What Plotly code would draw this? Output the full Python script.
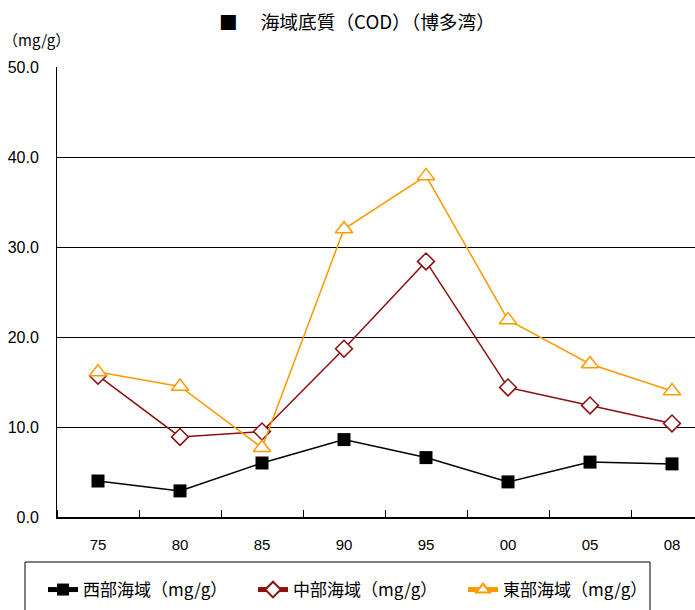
import plotly.graph_objects as go

years = ["75", "80", "85", "90", "95", "00", "05", "08"]
west = [4.0, 2.9, 6.0, 8.6, 6.6, 3.9, 6.1, 5.9]
central = [15.7, 8.9, 9.5, 18.7, 28.4, 14.4, 12.4, 10.4]
east = [16.1, 14.5, 7.7, 32.0, 37.9, 21.9, 17.0, 14.0]
names = ["西部海域（mg/g）", "中部海域（mg/g）", "東部海域（mg/g）"]
y_ticks = [0, 10, 20, 30, 40, 50]

xs = list(range(len(years)))
FONT = "Liberation Sans, Noto Sans CJK JP, sans-serif"
JFONT = "Noto Sans CJK JP, sans-serif"

W, H = 695, 610
L, T, B = 57, 67, 93
PW, PH = W - L, H - T - B


def px_x(p):
    return (p - L) / PW


def px_y(p):
    return (H - B - p) / PH


fig = go.Figure()
fig.add_trace(go.Scatter(x=xs, y=west, name=names[0], mode="lines+markers",
                         line=dict(color="black", width=1.5),
                         marker=dict(symbol="square", size=13, color="black")))
fig.add_trace(go.Scatter(x=xs, y=central, name=names[1], mode="lines+markers",
                         line=dict(color="#8B1010", width=1.5),
                         marker=dict(symbol="diamond", size=13, color="white",
                                     line=dict(color="#8B1010", width=1.5))))
fig.add_trace(go.Scatter(x=xs, y=east, name=names[2], mode="lines+markers",
                         line=dict(color="#FF9900", width=1.5),
                         marker=dict(symbol="triangle-up", size=15, color="white",
                                     line=dict(color="#FF9900", width=1.5))))

fig.update_layout(
    width=W, height=H,
    margin=dict(l=L, r=0, t=T, b=B),
    paper_bgcolor="white", plot_bgcolor="white",
    font=dict(family=FONT, color="black", size=14),
    title=dict(text="■　 海域底質（COD）（博多湾）", x=357/W, xanchor="center",
               y=1 - 22/H, yanchor="middle", xref="container", yref="container",
               font=dict(family=JFONT, size=18.7, color="black")),
    showlegend=True,
    legend=dict(orientation="h", xref="paper", yref="paper",
                x=px_x(43), y=px_y(572), xanchor="left", yanchor="top",
                borderwidth=0, bgcolor="rgba(0,0,0,0)",
                font=dict(family=JFONT, size=17, color="black"),
                entrywidth=165, entrywidthmode="pixels",
                itemsizing="constant"),
    xaxis=dict(range=[-0.5, -0.5 + PW/82], tickmode="array", tickvals=xs, ticktext=years,
               ticks="", showgrid=False, zeroline=False,
               showline=True, linecolor="black", linewidth=2,
               tickfont=dict(family=FONT, size=15), ticklabelstandoff=13,
               minor=dict(tick0=0.5, dtick=1, ticks="inside", ticklen=7,
                          tickcolor="black", tickwidth=1, showgrid=False)),
    yaxis=dict(range=[0, 50], tickmode="array", tickvals=y_ticks,
               ticktext=[f"{v:.1f}" for v in y_ticks],
               showgrid=True, gridcolor="black", gridwidth=1, zeroline=False,
               showline=True, linecolor="black", linewidth=1, ticks="",
               tickfont=dict(family=FONT, size=16), ticklabelstandoff=14),
    annotations=[dict(text="（mg/g）", xref="paper", yref="paper",
                      x=px_x(1), y=px_y(40), xanchor="left", yanchor="middle",
                      showarrow=False, font=dict(family=JFONT, size=15, color="black"))],
    shapes=[dict(type="rect", xref="paper", yref="paper",
                 x0=px_x(25), x1=px_x(650), y0=px_y(562), y1=px_y(640),
                 line=dict(color="black", width=1), fillcolor="rgba(0,0,0,0)",
                 layer="above")],
)

fig.write_html("out.html", config={"displayModeBar": False},
               post_script="document.body.style.margin='0';")
